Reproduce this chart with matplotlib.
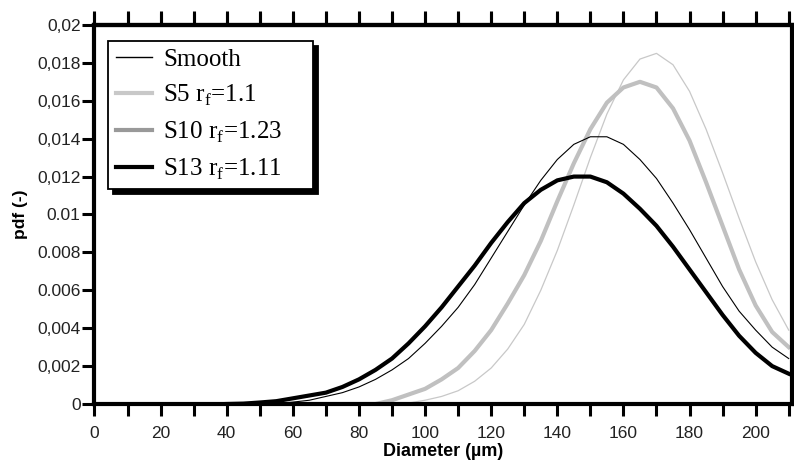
import matplotlib
matplotlib.use("Agg")
import matplotlib.pyplot as plt
from matplotlib.lines import Line2D
from matplotlib.ticker import FixedLocator, FuncFormatter

plt.rcParams["font.family"] = ["Liberation Sans", "DejaVu Sans"]
plt.rcParams["mathtext.fontset"] = "custom"
plt.rcParams["mathtext.rm"] = "Liberation Serif"

# diameter grid (µm) and pdf values
diameter = [40, 45, 50, 55, 60, 65, 70, 75, 80, 85, 90, 95, 100, 105, 110, 115, 120,
            125, 130, 135, 140, 145, 150, 155, 160, 165, 170, 175, 180, 185, 190,
            195, 200, 205, 210]
smooth = [0, 0, 0, 0.00003, 0.0001, 0.0002, 0.0004, 0.0006, 0.0009, 0.0013, 0.0018,
          0.0024, 0.0032, 0.0041, 0.0051, 0.0063, 0.0077, 0.0091, 0.0105, 0.0118,
          0.0129, 0.0137, 0.0141, 0.0141, 0.0137, 0.0129, 0.0119, 0.0106, 0.0092,
          0.0077, 0.0062, 0.0049, 0.0039, 0.0030, 0.0024]
s5 = [0, 0, 0, 0, 0, 0, 0, 0, 0, 0, 0.0002, 0.0005, 0.0008, 0.0013, 0.0019, 0.0028,
      0.0039, 0.0053, 0.0068, 0.0086, 0.0107, 0.0127, 0.0145, 0.0159, 0.0167, 0.0170,
      0.0167, 0.0156, 0.0139, 0.0117, 0.0094, 0.0071, 0.0052, 0.0038, 0.0030]
s10 = [0, 0, 0, 0, 0, 0, 0, 0, 0, 0, 0, 0.00005, 0.0002, 0.0004, 0.0007, 0.0012,
       0.0019, 0.0029, 0.0042, 0.0060, 0.0081, 0.0105, 0.0130, 0.0153, 0.0171,
       0.0182, 0.0185, 0.0179, 0.0165, 0.0145, 0.0122, 0.0098, 0.0075, 0.0055, 0.0039]
s13 = [0, 0.00002, 0.00008, 0.00015, 0.0003, 0.00045, 0.0006, 0.0009, 0.0013, 0.0018,
       0.0024, 0.0032, 0.0041, 0.0051, 0.0062, 0.0073, 0.0085, 0.0096, 0.0106, 0.0113,
       0.0118, 0.0120, 0.0120, 0.0117, 0.0111, 0.0103, 0.0094, 0.0083, 0.0071, 0.0059,
       0.0047, 0.0036, 0.0027, 0.0020, 0.0016]

legend_labels = ["Smooth", r"S5 r$_\mathregular{f}$=1.1",
                 r"S10 r$_\mathregular{f}$=1.23", r"S13 r$_\mathregular{f}$=1.11"]
x_ticks = list(range(0, 211, 10))
y_ticks = [0, 0.002, 0.004, 0.006, 0.008, 0.01, 0.012, 0.014, 0.016, 0.018, 0.02]
y_ticklabels = ["0", "0,002", "0,004", "0.006", "0.008", "0.01", "0,012", "0,014",
                "0,016", "0,018", "0,02"]

fig = plt.figure(figsize=(7.94, 4.62), dpi=100)
ax = fig.add_axes([0.119, 0.1255, 0.8785, 0.8205])

ax.plot(diameter, s10, color="#c8c8c8", lw=0.9)
ax.plot(diameter, s5, color="#c0c0c0", lw=3.0)
ax.plot(diameter, smooth, color="black", lw=0.8)
ax.plot(diameter, s13, color="black", lw=3.0)

ax.set_xlim(0, 211)
ax.set_ylim(0, 0.02)
ax.xaxis.set_major_locator(FixedLocator(x_ticks))
ax.xaxis.set_major_formatter(FuncFormatter(lambda v, pos: f"{v:.0f}" if round(v) % 20 == 0 else ""))
ax.yaxis.set_major_locator(FixedLocator(y_ticks))
ax.yaxis.set_major_formatter(FuncFormatter(lambda v, pos: y_ticklabels[pos]))

for side in ["left", "right", "top", "bottom"]:
    ax.spines[side].set_linewidth(3)
ax.tick_params(axis="both", direction="out", width=2.2, labelsize=12.5,
               color="black", labelcolor="#222222")
ax.tick_params(axis="x", length=8.5, pad=7, top=True, labeltop=False)
ax.tick_params(axis="y", length=8.5, pad=1.5, right=True, labelright=False)

# top ticks again through a secondary axis, longer like the reference
top = ax.secondary_xaxis("top")
top.set_xticks(x_ticks)
top.tick_params(direction="out", length=10, width=2.2, color="black", labeltop=False)
top.spines["top"].set_linewidth(3)

ax.set_xlabel("Diameter (µm)", fontsize=13, fontweight="bold")
ax.xaxis.set_label_coords(0.5, -0.103)
ax.set_ylabel("pdf (-)", fontsize=12.5, fontweight="bold")
ax.yaxis.set_label_coords(-0.095, 0.5)

handles = [
    Line2D([], [], color="black", lw=1.0),
    Line2D([], [], color="#c8c8c8", lw=3.0),
    Line2D([], [], color="#999999", lw=3.0),
    Line2D([], [], color="black", lw=3.0),
]
leg = ax.legend(handles, legend_labels, loc="upper left",
                bbox_to_anchor=(0.0194, 0.5, 0.294, 0.458), mode="expand",
                borderaxespad=0, fancybox=False, edgecolor="black", framealpha=1,
                prop={"family": "Liberation Serif", "size": 18}, handlelength=1.45,
                handletextpad=0.45, borderpad=0.3, labelspacing=0.47,
                shadow={"ox": 3.6, "oy": -3.6, "color": "black", "alpha": 1})
leg.get_frame().set_linewidth(1.3)

fig.savefig("out.png", dpi=100)
